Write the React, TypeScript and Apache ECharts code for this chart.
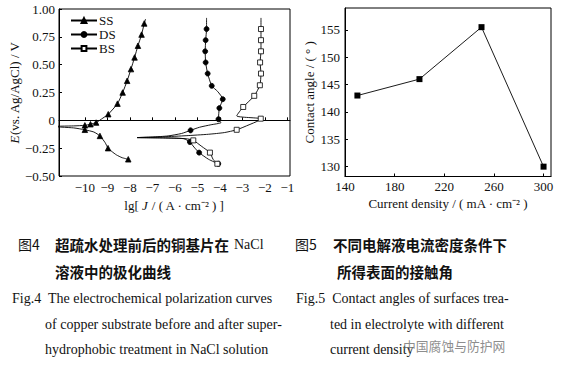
import React, { useEffect, useRef } from "react";
import * as echarts from "echarts";

// ---- Fig.4 polarization curves: [lg J, E, marker(1) or not(0)] ----
const ssCurve: number[][] = [
  [-8.07, -0.35, 1], [-8.35, -0.335, 0], [-8.6, -0.31, 0], [-8.8, -0.28, 0],
  [-8.97, -0.25, 1], [-9.1, -0.2, 0], [-9.33, -0.14, 1], [-9.6, -0.105, 0],
  [-10.0, -0.085, 1], [-10.5, -0.068, 0], [-11.5, -0.055, 0],
  [-10.5, -0.05, 0], [-10.0, -0.045, 1], [-9.75, -0.035, 1], [-9.5, -0.02, 1],
  [-9.2, 0.02, 0], [-8.96, 0.055, 1], [-8.55, 0.15, 1], [-8.32, 0.25, 1],
  [-8.12, 0.355, 1], [-7.95, 0.46, 1], [-7.79, 0.565, 1], [-7.64, 0.67, 1],
  [-7.48, 0.77, 1], [-7.36, 0.87, 1], [-7.3, 0.91, 0],
];
const dsCurve: number[][] = [
  [-4.07, -0.39, 1], [-4.5, -0.35, 0], [-4.92, -0.29, 1], [-5.15, -0.24, 0],
  [-5.33, -0.195, 1], [-5.6, -0.165, 0], [-6.5, -0.158, 0], [-7.67, -0.155, 0],
  [-7.0, -0.15, 0], [-6.3, -0.14, 0], [-5.7, -0.118, 0], [-5.3, -0.09, 1],
  [-4.9, -0.062, 0], [-4.4, -0.04, 0], [-3.95, -0.02, 0], [-4.06, 0.01, 1],
  [-4.02, 0.11, 1], [-3.87, 0.19, 1], [-4.1, 0.26, 0], [-4.36, 0.31, 1],
  [-4.54, 0.42, 1], [-4.63, 0.52, 1], [-4.65, 0.62, 1], [-4.63, 0.72, 1],
  [-4.59, 0.82, 1], [-4.59, 0.92, 0],
];
const bsCurve: number[][] = [
  [-4.11, -0.39, 1], [-4.3, -0.35, 0], [-4.44, -0.29, 1], [-4.8, -0.235, 0],
  [-5.18, -0.18, 1], [-5.5, -0.165, 0], [-6.5, -0.158, 0], [-7.67, -0.155, 0],
  [-6.5, -0.148, 0], [-5.5, -0.138, 0], [-4.5, -0.125, 0], [-3.8, -0.11, 0],
  [-3.25, -0.085, 1], [-2.7, -0.04, 0], [-2.3, -0.005, 0], [-2.18, 0.015, 1],
  [-3.25, 0.04, 0], [-2.96, 0.12, 1], [-2.47, 0.22, 1], [-2.22, 0.315, 1],
  [-2.17, 0.42, 1], [-2.21, 0.52, 1], [-2.17, 0.62, 1], [-2.17, 0.72, 1],
  [-2.17, 0.82, 1], [-2.17, 0.92, 0],
];
const fig4XTicks = [-10, -9, -8, -7, -6, -5, -4, -3, -2, -1];

// ---- Fig.5 contact angle vs current density ----
const currentDensity = [150, 200, 250, 300];
const contactAngle = [143, 146, 155.5, 130];
const fig5XTicks = [140, 180, 220, 260, 300];
const fig5YTicks = [130, 135, 140, 145, 150, 155];

const SERIF = "Liberation Serif";
const CJK = "Noto Sans CJK SC";

const minus = (s: string) => s.replace("-", "\u2212");

function toData(curve: number[][], sym: string) {
  return curve.map(([x, y, m]) => ({ value: [x, y], symbol: m ? sym : "none" }));
}

export default function App() {
  const ref = useRef<HTMLDivElement>(null);
  useEffect(() => {
    if (!ref.current) return;
    const chart = echarts.init(ref.current, null, { renderer: "svg" });
    const axisCommon = {
      axisLine: { show: true, lineStyle: { color: "#000", width: 1 } },
      axisTick: { show: true, inside: true, length: 3, lineStyle: { color: "#000" } },
      splitLine: { show: false },
    };
    const labelStyle = { fontFamily: SERIF, fontSize: 13, color: "#111" };
    const lineSeries = (name: string, curve: number[][], sym: string, size: number, fill: string) => ({
      name,
      type: "line",
      xAxisIndex: 0,
      yAxisIndex: 0,
      data: toData(curve, sym),
      symbol: sym,
      symbolSize: size,
      showSymbol: true,
      smooth: 0.2,
      clip: true,
      lineStyle: { color: "#000", width: 0.9 },
      itemStyle: { color: fill, borderColor: "#000", borderWidth: 0.8 },
    });
    const t = (text: string, x: number, y: number, font: string, size: number, weight = "normal", fill = "#111") => ({
      type: "text",
      x,
      y,
      silent: true,
      style: { text, fontFamily: font, fontSize: size, fontWeight: weight, fill, align: "left", verticalAlign: "middle" },
    });
    chart.setOption({
      animation: false,
      backgroundColor: "#fff",
      grid: [
        { left: 59, top: 9, width: 231, height: 167, show: true, borderColor: "#000", borderWidth: 1, containLabel: false },
        { left: 345, top: 8, width: 206, height: 168.5, show: true, borderColor: "#000", borderWidth: 1, containLabel: false },
      ],
      legend: {
        data: ["SS", "DS", "BS"],
        orient: "vertical",
        left: 70,
        top: 14,
        padding: 0,
        itemWidth: 26,
        itemHeight: 6,
        itemGap: 1,
        textStyle: { fontFamily: SERIF, fontSize: 13, color: "#111", lineHeight: 11.5, padding: [0, 0, 0, -3] },
      },
      xAxis: [
        {
          gridIndex: 0, type: "value", min: -11.15, max: -0.88, ...axisCommon,
          axisTick: { ...axisCommon.axisTick, customValues: fig4XTicks },
          axisLabel: { ...labelStyle, margin: 5, customValues: fig4XTicks, formatter: (v: number) => minus(String(v)) },
          name: "lg[ {i|J} / ( A · cm⁻² ) ]",
          nameLocation: "middle",
          nameGap: 23,
          nameTextStyle: { ...labelStyle, rich: { i: { fontFamily: SERIF, fontSize: 13, fontStyle: "italic", color: "#111" } } },
        },
        {
          gridIndex: 1, type: "value", min: 140, max: 306, ...axisCommon,
          axisTick: { ...axisCommon.axisTick, customValues: fig5XTicks },
          axisLabel: { ...labelStyle, margin: 3, customValues: fig5XTicks },
          name: "Current density / ( mA · cm⁻² )",
          nameLocation: "middle",
          nameGap: 20,
          nameTextStyle: { ...labelStyle },
        },
      ],
      yAxis: [
        {
          gridIndex: 0, type: "value", min: -0.5, max: 1, interval: 0.25, ...axisCommon,
          axisLabel: { ...labelStyle, margin: 4, formatter: (v: number) => (v === 0 ? "0" : minus(v.toFixed(2))) },
          name: "{i|E}(vs. Ag/AgCl) / V",
          nameLocation: "middle",
          nameGap: 34,
          nameTextStyle: { ...labelStyle, rich: { i: { fontFamily: SERIF, fontSize: 13, fontStyle: "italic", color: "#111" } } },
        },
        {
          gridIndex: 1, type: "value", min: 128.2, max: 159, ...axisCommon,
          axisTick: { ...axisCommon.axisTick, customValues: fig5YTicks },
          axisLabel: { ...labelStyle, margin: 5, customValues: fig5YTicks },
          name: "Contact angle / ( ° )",
          nameLocation: "middle",
          nameGap: 29,
          nameTextStyle: { ...labelStyle },
        },
      ],
      series: [
        lineSeries("SS", ssCurve, "triangle", 5.5, "#000"),
        lineSeries("DS", dsCurve, "circle", 5, "#000"),
        lineSeries("BS", bsCurve, "rect", 5, "#fff"),
        {
          name: "Contact angle",
          type: "line",
          xAxisIndex: 1,
          yAxisIndex: 1,
          data: currentDensity.map((x, i) => [x, contactAngle[i]]),
          symbol: "rect",
          symbolSize: 6,
          lineStyle: { color: "#000", width: 0.9 },
          itemStyle: { color: "#000" },
        },
      ],
      graphic: [
        t("图4", 18, 244, CJK, 14),
        t("超疏水处理前后的铜基片在", 55, 244, CJK, 14.5, "bold"),
        t("NaCl", 234, 244, SERIF, 14),
        t("溶液中的极化曲线", 55, 271.5, CJK, 14.5, "bold"),
        t("Fig.4  The electrochemical polarization curves", 12, 298, SERIF, 14),
        t("of copper substrate before and after super-", 45, 324, SERIF, 14),
        t("hydrophobic treatment in NaCl solution", 45, 349, SERIF, 14),
        t("图5", 295, 244, CJK, 14),
        t("不同电解液电流密度条件下", 333, 244, CJK, 14.5, "bold"),
        t("所得表面的接触角", 337, 271.5, CJK, 14.5, "bold"),
        t("Fig.5  Contact angles of surfaces trea-", 296, 298, SERIF, 14),
        t("ted in electrolyte with different", 330, 324, SERIF, 14),
        t("current density", 330, 349, SERIF, 14),
        t("中国腐蚀与防护网", 403, 345, CJK, 12.8, "normal", "rgba(120,120,120,0.85)"),
      ],
    });
    return () => chart.dispose();
  }, []);
  return (
    <div
      ref={ref}
      style={{ position: "absolute", left: 0, top: 0, width: 574, height: 370, background: "#fff" }}
    />
  );
}
